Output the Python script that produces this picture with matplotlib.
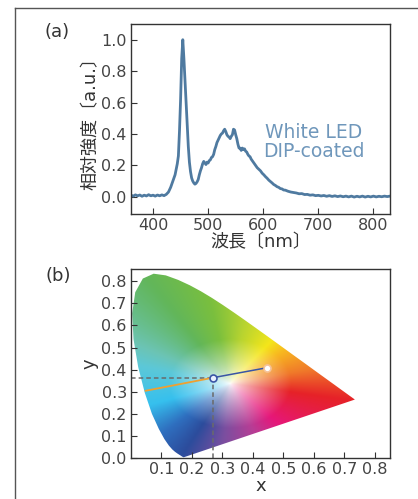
import matplotlib
matplotlib.use("Agg")
import matplotlib.pyplot as plt
import numpy as np
from matplotlib.colors import to_rgb
from matplotlib.lines import Line2D
from matplotlib.patches import Polygon

plt.rcParams["font.family"] = ["DejaVu Sans", "Noto Sans CJK JP"]

# (a) emission spectrum
wavelength = [
    360, 364, 368, 372, 376, 380, 384, 388, 392, 396, 400, 404, 408, 412, 416, 420,
    424, 428, 432, 436, 440, 444, 446, 448, 450, 452, 454, 456, 458, 460, 462, 464,
    466, 468, 470, 472, 474, 476, 478, 480, 482, 484, 486, 488, 490, 492, 494, 496,
    498, 500, 502, 504, 506, 508, 510, 512, 514, 516, 518, 520, 522, 524, 526, 528,
    530, 532, 534, 536, 538, 540, 542, 544, 546, 548, 550, 552, 554, 556, 558, 560,
    562, 564, 566, 568, 570, 572, 574, 576, 578, 580, 583, 586, 589, 592, 595, 598,
    601, 604, 607, 610, 613, 616, 619, 622, 625, 628, 631, 634, 637, 640, 645, 650,
    655, 660, 665, 670, 675, 680, 685, 690, 695, 700, 705, 710, 715, 720, 725, 730,
    735, 740, 745, 750, 755, 760, 765, 770, 775, 780, 785, 790, 795, 800, 805, 810,
    815, 820, 825, 830,
]
intensity = [
    0.010, 0.004, 0.012, 0.006, 0.011, 0.003, 0.010, 0.005, 0.013, 0.006, 0.010, 0.004,
    0.011, 0.006, 0.012, 0.007, 0.015, 0.030, 0.060, 0.100, 0.140, 0.210, 0.260, 0.420,
    0.620, 0.880, 1.000, 0.880, 0.740, 0.600, 0.450, 0.320, 0.220, 0.160, 0.120, 0.100,
    0.088, 0.080, 0.085, 0.095, 0.110, 0.140, 0.165, 0.185, 0.210, 0.225, 0.215, 0.205,
    0.220, 0.215, 0.230, 0.235, 0.250, 0.255, 0.270, 0.300, 0.320, 0.345, 0.360, 0.375,
    0.390, 0.400, 0.405, 0.420, 0.430, 0.415, 0.395, 0.385, 0.380, 0.370, 0.385, 0.395,
    0.430, 0.425, 0.395, 0.370, 0.335, 0.310, 0.310, 0.295, 0.310, 0.300, 0.305, 0.290,
    0.285, 0.270, 0.260, 0.255, 0.240, 0.230, 0.215, 0.200, 0.185, 0.175, 0.165, 0.150,
    0.140, 0.128, 0.118, 0.106, 0.097, 0.088, 0.078, 0.072, 0.064, 0.060, 0.052, 0.050,
    0.043, 0.042, 0.035, 0.030, 0.027, 0.024, 0.019, 0.020, 0.014, 0.015, 0.010, 0.012,
    0.007, 0.009, 0.005, 0.008, 0.003, 0.007, 0.002, 0.006, 0.001, 0.005, 0.000, 0.004,
    -0.001, 0.004, -0.002, 0.003, -0.001, 0.004, -0.002, 0.003, -0.001, 0.004, -0.001,
    0.003, 0.000, 0.004, 0.001, 0.004,
]

# (b) CIE 1931 spectral locus (380-700 nm, 5 nm steps)
locus_x = [
    0.1741, 0.1740, 0.1738, 0.1736, 0.1733, 0.1730, 0.1726, 0.1721, 0.1714, 0.1703,
    0.1689, 0.1669, 0.1644, 0.1611, 0.1566, 0.1510, 0.1440, 0.1355, 0.1241, 0.1096,
    0.0913, 0.0687, 0.0454, 0.0235, 0.0082, 0.0039, 0.0139, 0.0389, 0.0743, 0.1142,
    0.1547, 0.1929, 0.2296, 0.2658, 0.3016, 0.3373, 0.3731, 0.4087, 0.4441, 0.4788,
    0.5125, 0.5448, 0.5752, 0.6029, 0.6270, 0.6482, 0.6658, 0.6801, 0.6915, 0.7006,
    0.7079, 0.7140, 0.7190, 0.7230, 0.7260, 0.7283, 0.7300, 0.7311, 0.7320, 0.7334,
    0.7344, 0.7347,
]
locus_y = [
    0.0050, 0.0050, 0.0049, 0.0049, 0.0048, 0.0048, 0.0048, 0.0048, 0.0051, 0.0058,
    0.0069, 0.0086, 0.0109, 0.0138, 0.0177, 0.0227, 0.0297, 0.0399, 0.0578, 0.0868,
    0.1327, 0.2007, 0.2950, 0.4127, 0.5384, 0.6548, 0.7502, 0.8120, 0.8338, 0.8262,
    0.8059, 0.7816, 0.7543, 0.7243, 0.6923, 0.6589, 0.6245, 0.5896, 0.5547, 0.5202,
    0.4866, 0.4544, 0.4242, 0.3965, 0.3725, 0.3514, 0.3340, 0.3197, 0.3083, 0.2993,
    0.2920, 0.2859, 0.2809, 0.2770, 0.2740, 0.2717, 0.2700, 0.2689, 0.2680, 0.2666,
    0.2656, 0.2653,
]

# chromaticity points: spectrum edge, white LED, phosphor side
orange_x = [0.048, 0.269]
orange_y = [0.305, 0.364]
blue_x = [0.269, 0.446]
blue_y = [0.364, 0.409]
led_xy = (0.269, 0.364)
end_xy = (0.446, 0.409)

# colour wheel of the printed diagram (hue angle around white, degrees)
hue_angles = [-10.7, 13.5, 40, 55, 80, 100, 120, 150, 165, 200, 225, 244, 265, 290, 311, 349.3]
hue_colors = ["#e62228", "#f07a2a", "#f8b820", "#f4e61a", "#b8d430", "#7abf3e",
              "#62b65a", "#6cc4b4", "#5cc8d8", "#36c0ee", "#2f6fbf", "#2c4c9c",
              "#7a4fa0", "#b83d95", "#e6177a", "#e62228"]
white_xy = (0.325, 0.335)

tick_color = "#444444"
spine_color = "#333333"
tick_size = 11.5

fig = plt.figure(figsize=(4.18, 4.99), dpi=100)


def style_axes(ax):
    for sp in ax.spines.values():
        sp.set_color(spine_color)
        sp.set_linewidth(1.0)
    ax.tick_params(direction="in", length=4, width=0.8, color=spine_color,
                   labelsize=tick_size, labelcolor=tick_color, pad=3)


# --- (a) spectrum ---
ax1 = fig.add_axes([0.3134, 0.5711, 0.6196, 0.3808])
ax1.plot(wavelength, intensity, color="#4f7aa0", linewidth=2.0)
ax1.set_xlim(360, 830)
ax1.set_ylim(-0.11, 1.10)
ax1.set_xticks([400, 500, 600, 700, 800])
ax1.set_yticks([0.0, 0.2, 0.4, 0.6, 0.8, 1.0])
ax1.set_yticklabels(["0.0", "0.2", "0.4", "0.6", "0.8", "1.0"])
style_axes(ax1)
ax1.set_xlabel("波長〔nm〕", fontsize=13, color="#333333", labelpad=0)
ax1.set_ylabel("相対強度〔a.u.〕", fontsize=13, color="#333333", labelpad=1)
ax1.text(692, 0.35, "White LED\nDIP-coated", color="#6f97bb", fontsize=13.5,
         ha="center", va="center", linespacing=1.0)

# --- (b) CIE diagram ---
ax2 = fig.add_axes([0.3134, 0.0816, 0.6196, 0.3793])
gx = np.linspace(0.0, 0.75, 500)
gy = np.linspace(0.0, 0.85, 500)
XX, YY = np.meshgrid(gx, gy)
dx = XX - white_xy[0]
dy = YY - white_xy[1]
ang = np.degrees(np.arctan2(dy, dx))
ang = np.where(ang < hue_angles[0], ang + 360, ang)
anchor_rgb = np.array([to_rgb(c) for c in hue_colors])
hue = np.stack([np.interp(ang, hue_angles, anchor_rgb[:, k]) for k in range(3)], axis=-1)
sat = np.clip(np.hypot(dx, dy) / 0.2, 0, 1) ** 0.7
rgb = 1 - sat[..., None] * (1 - hue)

im = ax2.imshow(rgb, origin="lower", extent=(0.0, 0.75, 0.0, 0.85),
                aspect="auto", interpolation="bilinear")
horseshoe = Polygon(np.column_stack([locus_x, locus_y]), closed=True,
                    facecolor="none", edgecolor="none", transform=ax2.transData)
ax2.add_patch(horseshoe)
im.set_clip_path(horseshoe)

ax2.plot([0, led_xy[0]], [led_xy[1], led_xy[1]], color="#6a6a6a",
         linestyle=(0, (3, 2)), linewidth=1.1)
ax2.plot([led_xy[0], led_xy[0]], [0, led_xy[1]], color="#6a6a6a",
         linestyle=(0, (3, 2)), linewidth=1.1)
ax2.plot(orange_x, orange_y, color="#f0a030", linewidth=1.3)
ax2.plot(blue_x, blue_y, color="#3a55a5", linewidth=1.1)
ax2.plot(*led_xy, marker="o", markersize=5, markerfacecolor="#e8f0ff",
         markeredgecolor="#3a55a5", markeredgewidth=1.2)
ax2.plot(*end_xy, marker="o", markersize=5, markerfacecolor="white",
         markeredgecolor="#f5c39a", markeredgewidth=1.2)

ax2.set_xlim(0.0, 0.85)
ax2.set_ylim(0.0, 0.855)
ax2.set_xticks([0.1, 0.2, 0.3, 0.4, 0.5, 0.6, 0.7, 0.8])
ax2.set_yticks([0.0, 0.1, 0.2, 0.3, 0.4, 0.5, 0.6, 0.7, 0.8])
style_axes(ax2)
ax2.set_xlabel("x", fontsize=13, color="#333333", labelpad=0)
ax2.set_ylabel("y", fontsize=13, color="#333333", labelpad=2)

# panel letters and outer frame
fig.text(0.137, 0.936, "(a)", fontsize=13, color="#333333", ha="center", va="center")
fig.text(0.139, 0.447, "(b)", fontsize=13, color="#333333", ha="center", va="center")
fig.add_artist(Line2D([14.5 / 418, 1.0], [1 - 7.5 / 499, 1 - 7.5 / 499],
                      color="#555555", linewidth=1.0))
fig.add_artist(Line2D([14.5 / 418, 14.5 / 418], [0.0, 1 - 7.5 / 499],
                      color="#555555", linewidth=1.0))

fig.savefig("out.png", dpi=100)
